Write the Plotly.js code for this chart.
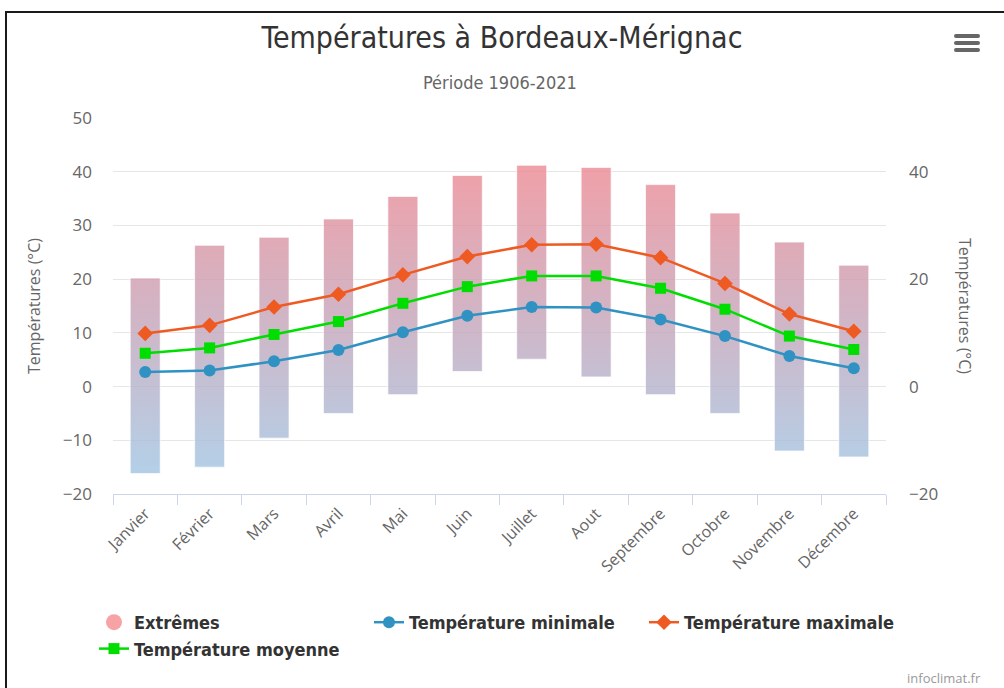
<!DOCTYPE html>
<html>
<head>
<meta charset="utf-8">
<script src="https://cdn.plot.ly/plotly-3.0.1.min.js"></script>
<style>
  html, body { margin: 0; padding: 0; background: #fff; }
  #wrap { position: relative; width: 1004px; height: 688px; overflow: hidden; }
  #chart { position: absolute; left: 0; top: 0; width: 1004px; height: 688px; }
  #frame { position: absolute; left: 5px; top: 11px; width: 1010px; height: 700px;
           border-top: 2px solid #1a1a1a; border-left: 2px solid #1a1a1a; pointer-events: none; }
  .menu { position: absolute; left: 954px; width: 26px; height: 4px; border-radius: 2px; background: #666; }
</style>
</head>
<body>
<div id="wrap">
  <div id="chart"></div>
  <div id="frame"></div>
  <div class="menu" style="top:34px"></div>
  <div class="menu" style="top:41px"></div>
  <div class="menu" style="top:48px"></div>
</div>
<script>
const months = ["Janvier","Février","Mars","Avril","Mai","Juin","Juillet","Aout","Septembre","Octobre","Novembre","Décembre"];
const extremeMin = [-16.2,-15.0,-9.6,-5.0,-1.5,2.8,5.1,1.8,-1.5,-5.0,-12.0,-13.1];
const extremeMax = [20.2,26.3,27.8,31.2,35.4,39.3,41.2,40.8,37.6,32.3,26.9,22.6];
const tempMin = [2.7,3.0,4.7,6.8,10.1,13.2,14.8,14.7,12.5,9.4,5.7,3.4];
const tempMoy = [6.2,7.2,9.7,12.1,15.5,18.6,20.6,20.6,18.3,14.4,9.4,6.9];
const tempMax = [9.9,11.4,14.8,17.2,20.8,24.2,26.4,26.5,24.0,19.2,13.5,10.3];

const idx = months.map((m, i) => i);
const half = 0.233;
const bx = [], by = [];
idx.forEach(i => {
  bx.push(i - half, i + half, i + half, i - half, i - half, null);
  by.push(extremeMin[i], extremeMin[i], extremeMax[i], extremeMax[i], extremeMin[i], null);
});

// plot-area geometry (pixels) for placing annotations in paper coordinates
const M = {l: 113, r: 118, t: 118, b: 194};
const W = 1004, H = 688;
const PW = W - M.l - M.r, PH = H - M.t - M.b;
const px = v => (v - M.l) / PW;
const py = v => (H - M.b - v) / PH;

const condFont = "Liberation Sans Narrow, DejaVu Sans Condensed, Arial Narrow, sans-serif";
const legFont = {family: condFont, size: 18, color: "#333", weight: 700};
const tickFont = {family: "Open Sans, sans-serif", size: 16, color: "#666"};
const yTickFont = {family: "Open Sans, sans-serif", size: 17, color: "#666"};

const traces = [
  {
    x: bx, y: by, type: "scatter", mode: "lines", fill: "toself",
    line: {color: "rgba(255,255,255,0.7)", width: 1},
    fillgradient: {type: "vertical", start: -16.2, stop: 41.2,
      colorscale: [[0, "rgba(160,196,226,0.8)"], [0.55, "rgba(200,160,180,0.8)"], [1, "rgba(236,136,146,0.8)"]]},
    hoverinfo: "skip", showlegend: false
  },
  {
    x: [null], y: [null], yaxis: "y2", type: "scatter", mode: "markers", name: "Extrêmes",
    marker: {symbol: "circle", size: 17, color: "#f7a3a6"}, legendrank: 1
  },
  {
    x: idx, y: tempMin, type: "scatter", mode: "lines+markers", name: "Température minimale",
    line: {color: "#2f92c2", width: 2.5}, marker: {symbol: "circle", size: 12, color: "#2f92c2"}, legendrank: 2
  },
  {
    x: idx, y: tempMax, type: "scatter", mode: "lines+markers", name: "Température maximale",
    line: {color: "#ee5a22", width: 2.5}, marker: {symbol: "diamond", size: 12, color: "#ee5a22"}, legendrank: 3
  },
  {
    x: idx, y: tempMoy, type: "scatter", mode: "lines+markers", name: "Température moyenne",
    line: {color: "#00dd00", width: 2.5}, marker: {symbol: "square", size: 11, color: "#00dd00"}, legendrank: 4
  }
];

const layout = {
  width: W, height: H,
  margin: M,
  paper_bgcolor: "rgba(0,0,0,0)", plot_bgcolor: "rgba(0,0,0,0)",
  title: {text: "Températures à Bordeaux-Mérignac", x: 0.5, xanchor: "center", y: 1 - 37/H, yanchor: "middle",
          font: {family: condFont, size: 30, color: "#333"}},
  xaxis: {
    range: [-0.5, 11.5], tickmode: "array", tickvals: idx, ticktext: months, tickangle: -45,
    tickfont: tickFont, showgrid: false, zeroline: false, showline: true, linecolor: "#ccd6eb", linewidth: 1,
    ticks: "", ticklabelstandoff: 3,
    minor: {tickmode: "linear", tick0: -0.5, dtick: 1, ticks: "outside", ticklen: 10, tickcolor: "#ccd6eb", tickwidth: 1, showgrid: false},
    fixedrange: true
  },
  yaxis: {
    range: [-20, 50], dtick: 10, tick0: 0, tickfont: yTickFont,
    gridcolor: "#e6e6e6", gridwidth: 1, zeroline: false, showline: false, ticks: "", ticklabelstandoff: 20,
    title: {text: "Températures (°C)", font: {family: "Open Sans, sans-serif", size: 16, color: "#666"}, standoff: 18},
    fixedrange: true
  },
  yaxis2: {
    overlaying: "y", side: "right", range: [-20, 50], tickmode: "array", tickvals: [-20, 0, 20, 40],
    tickfont: yTickFont, showgrid: false, zeroline: false,
    showline: false, ticks: "", ticklabelstandoff: 22, fixedrange: true
  },
  legend: {
    orientation: "h", xref: "paper", yref: "paper", x: px(94), y: py(604), xanchor: "left", yanchor: "top",
    font: legFont, entrywidth: 230, entrywidthmode: "pixels", itemsizing: "trace", bgcolor: "rgba(0,0,0,0)",
    traceorder: "normal", tracegroupgap: 0
  },
  annotations: [
    {text: "Période 1906-2021", xref: "paper", yref: "paper", x: px(500), y: py(82), xanchor: "center", yanchor: "middle",
     showarrow: false, font: {family: condFont, size: 18, color: "#666"}},
    {text: "Températures (°C)", xref: "paper", yref: "paper", x: px(965), y: py(306), xanchor: "center", yanchor: "middle",
     textangle: 90, showarrow: false, font: {family: "Open Sans, sans-serif", size: 16, color: "#666"}},
    {text: "infoclimat.fr", xref: "paper", yref: "paper", x: px(983), y: py(678), xanchor: "right", yanchor: "middle",
     showarrow: false, font: {family: "Open Sans, sans-serif", size: 13, color: "#999"}}
  ],
  hovermode: false
};

Plotly.newPlot("chart", traces, layout, {displayModeBar: false, staticPlot: true});
</script>
</body>
</html>
